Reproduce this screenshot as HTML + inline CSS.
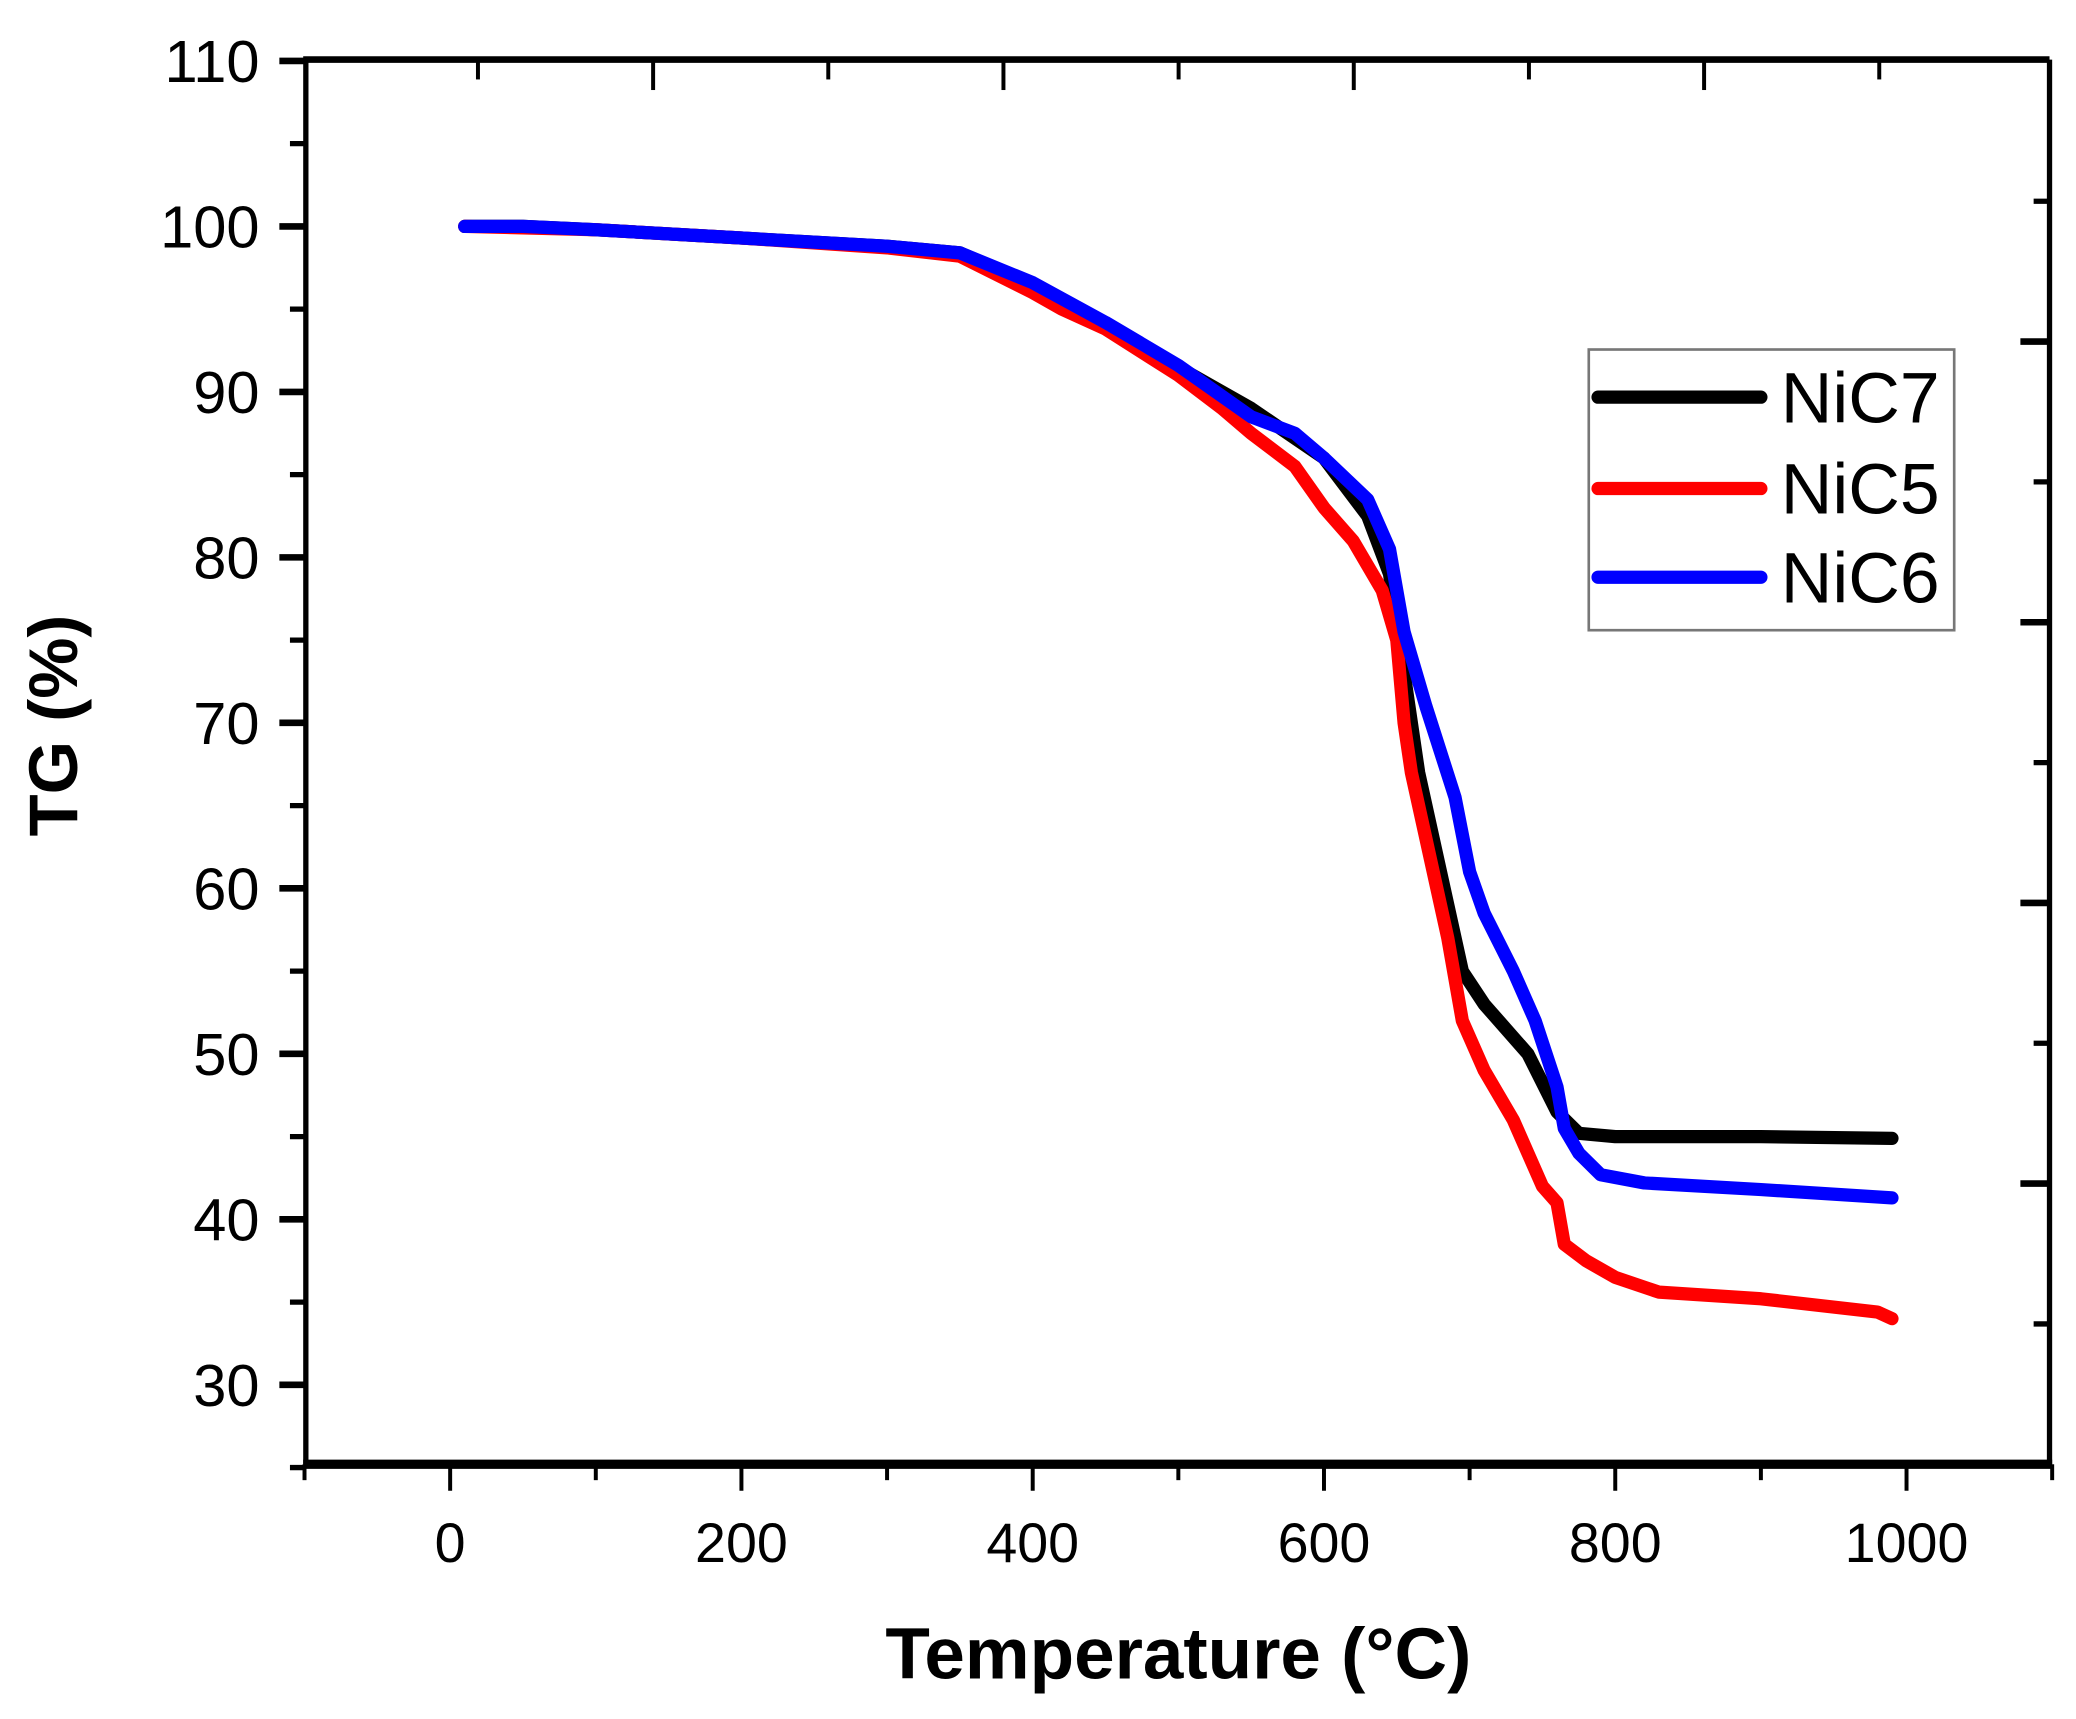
<!DOCTYPE html>
<html><head><meta charset="utf-8"><style>
html,body{margin:0;padding:0;background:#fff;}
svg{display:block;}
text{font-family:"Liberation Sans",Arial,sans-serif;fill:#000;}
</style></head><body>
<svg id="chart" width="2076" height="1719" viewBox="0 0 1568 1298.4" preserveAspectRatio="none" xmlns="http://www.w3.org/2000/svg">
<g id="axes"></g>
<g id="series"></g>
<g id="legend"></g>
</svg>
<script>
const xTicks = [0, 200, 400, 600, 800, 1000];
const yTicks = [30, 40, 50, 60, 70, 80, 90, 100, 110];
const seriesNames = ["NiC7", "NiC5", "NiC6"];
const seriesColors = ["#000000", "#ff0000", "#0000ff"];
const nic7T = [10,50,100,200,300,350,400,450,500,550,600,630,645,655,665,680,695,710,740,760,775,800,900,990];
const nic7V = [100,100,99.8,99.3,98.8,98.4,96.5,94,91.5,89,86,82.5,79,73,67,61,55,53,50,46.5,45.2,45,45,44.9];
const nic5T = [10,100,200,300,350,400,420,450,500,530,550,580,600,620,640,650,655,660,670,685,695,710,730,750,760,765,780,800,830,900,980,990];
const nic5V = [100,99.8,99.3,98.7,98.2,96,95,93.8,91,89,87.5,85.5,83,81,78,75,70,67,63,57,52,49,46,42,41,38.5,37.5,36.5,35.6,35.2,34.4,34];
const nic6T = [10,50,100,200,300,350,400,450,500,550,580,600,630,645,655,670,690,700,710,730,745,760,765,775,790,820,900,990];
const nic6V = [100,100,99.8,99.3,98.8,98.4,96.6,94.2,91.6,88.5,87.5,86,83.5,80.5,75.5,71,65.5,61,58.5,55,52,48,45.5,44,42.7,42.2,41.8,41.3];

const L=231,R=1548,T=45,B=1106;
const xS = v => 340 + (v-0)*1.1;
const yS = v => 171 + (100-v)*12.5;
const NS="http://www.w3.org/2000/svg";
function mk(tag, attrs, parent){const e=document.createElementNS(NS,tag);for(const k in attrs)e.setAttribute(k,attrs[k]);parent.appendChild(e);return e;}
const axes=document.getElementById('axes');
let e;
e=mk('line',{x1:L,y1:T,x2:L,y2:B,stroke:'#000','stroke-width':4},axes);


e=mk('line',{x1:L-2,y1:T,x2:R,y2:T,stroke:'#000','stroke-width':5},axes);


e=mk('line',{x1:R,y1:T,x2:R,y2:B,stroke:'#000','stroke-width':4},axes);


e=mk('line',{x1:L-2,y1:B,x2:R+2,y2:B,stroke:'#000','stroke-width':7},axes);


for(let v=-100; v<=1100; v+=100){
  const major = v%200===0;
  e=mk('line',{x1:xS(v),y1:B,x2:xS(v),y2:B+(major?20:12),stroke:'#000','stroke-width':3},axes);
  
  
}
xTicks.forEach(v=>{
  e=mk('text',{x:xS(v),y:1180,'font-size':42,'text-anchor':'middle'},axes);
  e.textContent=v;
  
  
});
for(let v=25; v<=110; v+=5){
  const major = v%10===0;
  e=mk('line',{x1:L,y1:yS(v),x2:L-(major?20:12),y2:yS(v),stroke:'#000','stroke-width':major?5:4},axes);
  
  
}
yTicks.forEach(v=>{
  e=mk('text',{x:196,y:yS(v)+16,'font-size':45,'text-anchor':'end'},axes);
  e.textContent=v;
  
  
});
for(let i=0;i<9;i++){
  const x=361+i*132.3, major=i%2===1;
  e=mk('line',{x1:x,y1:T,x2:x,y2:T+(major?23:15),stroke:'#000','stroke-width':3},axes);
  
  
}
for(let i=0;i<10;i++){
  const y=152+i*106, major=i%2===1;
  e=mk('line',{x1:R,y1:y,x2:R-(major?22:12),y2:y,stroke:'#000','stroke-width':major?5:4},axes);
  
  
}
e=mk('text',{x:0,y:0,'font-size':52,'font-weight':'bold','text-anchor':'middle',transform:'translate(58,548) rotate(-90)'},axes);
e.textContent='TG (%)';


e=mk('text',{x:890,y:1268,'font-size':55,'font-weight':'bold','text-anchor':'middle'},axes);
e.textContent='Temperature (°C)';



const series=document.getElementById('series');
const allT=[nic7T,nic5T,nic6T], allV=[nic7V,nic5V,nic6V];
[0,1,2].forEach(i=>{
  const d=allT[i].map((t,j)=>(j?'L':'M')+xS(t).toFixed(1)+' '+yS(allV[i][j]).toFixed(1)).join(' ');
  e=mk('path',{d:d,fill:'none',stroke:seriesColors[i],'stroke-width':10,'stroke-linejoin':'round','stroke-linecap':'round'},series);
  
  
});

const lg=document.getElementById('legend');
e=mk('rect',{x:1200,y:264,width:276,height:212,fill:'#fff',stroke:'#777','stroke-width':2},lg);


const ly=[300,369,436];
seriesNames.forEach((n,i)=>{
  const g=mk('g',{},lg);
  
  
  mk('line',{x1:1207,y1:ly[i],x2:1330,y2:ly[i],stroke:seriesColors[i],'stroke-width':10,'stroke-linecap':'round'},g);
  const t=mk('text',{x:1345,y:ly[i]+19,'font-size':54},g);
  t.textContent=n;
});
</script>
</body></html>
